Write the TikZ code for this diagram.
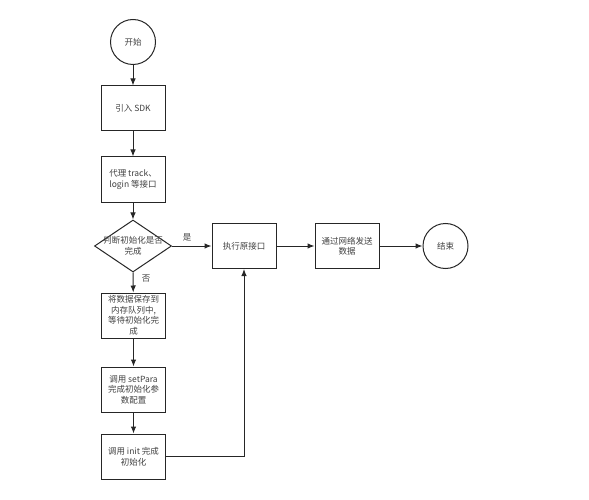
\documentclass[tikz,border=0pt]{standalone}
\usepackage{fontspec}
\setmainfont{Noto Sans CJK SC}
\usetikzlibrary{shapes.geometric,arrows.meta}
\tikzset{
  box/.style={draw=black!85, line width=1pt, minimum width=64pt, minimum height=45pt, inner sep=1pt, align=center, text=black!75, font=\fontsize{8.5}{10.5}\selectfont},
  term/.style={draw=black!85, line width=1pt, circle, minimum size=45pt, inner sep=0pt, text=black!75, font=\fontsize{8.5}{10.5}\selectfont},
  decision/.style={draw=black!85, line width=1pt, diamond, minimum width=77pt, minimum height=52pt, inner sep=0pt},
  txt/.style={align=center, text=black!75, font=\fontsize{8.5}{10.5}\selectfont},
  link/.style={-{Latex[length=7pt,width=5.5pt]}, line width=1pt, black!85}
}
\begin{document}
\begin{tikzpicture}[x=1pt,y=-1pt]
\useasboundingbox (0,0) rectangle (589,500);
\node[term] (start) at (133,42) {开始};
\node[box] (sdk) at (133,108.5) {引入 SDK};
\node[box] (proxy) at (133,179.5) {代理 track、\\login 等接口};
\node[decision] (judge) at (133,246) {};
\node[txt] (judgetext) at (judge) {判断初始化是否\\完成};
\node[box] (save) at (133.5,315.5) {将数据保存到\\内存队列中,\\等待初始化完\\成};
\node[box] (setpara) at (133.5,389.5) {调用 setPara\\完成初始化参\\数配置};
\node[box] (init) at (133.5,456.5) {调用 init 完成\\初始化};
\node[box] (exec) at (244,246) {执行原接口};
\node[box] (send) at (347,246) {通过网络发送\\数据};
\node[term] (end) at (445.5,246) {结束};
\draw [link] (start) -- (sdk);
\draw [link] (sdk) -- (proxy);
\draw [link] (proxy) -- (judge);
\draw [link] (judge.south) -- node[txt, pos=0.3, right, xshift=5pt] {否} (save);
\draw [link] (judge.east) -- node[txt, pos=0.38, above, yshift=1pt] {是} (exec);
\draw [link] (save) -- (setpara);
\draw [link] (setpara) -- (init);
\draw [link] (init) -| (exec);
\draw [link] (exec) -- (send);
\draw [link] (send) -- (end);
\end{tikzpicture}
\end{document}
